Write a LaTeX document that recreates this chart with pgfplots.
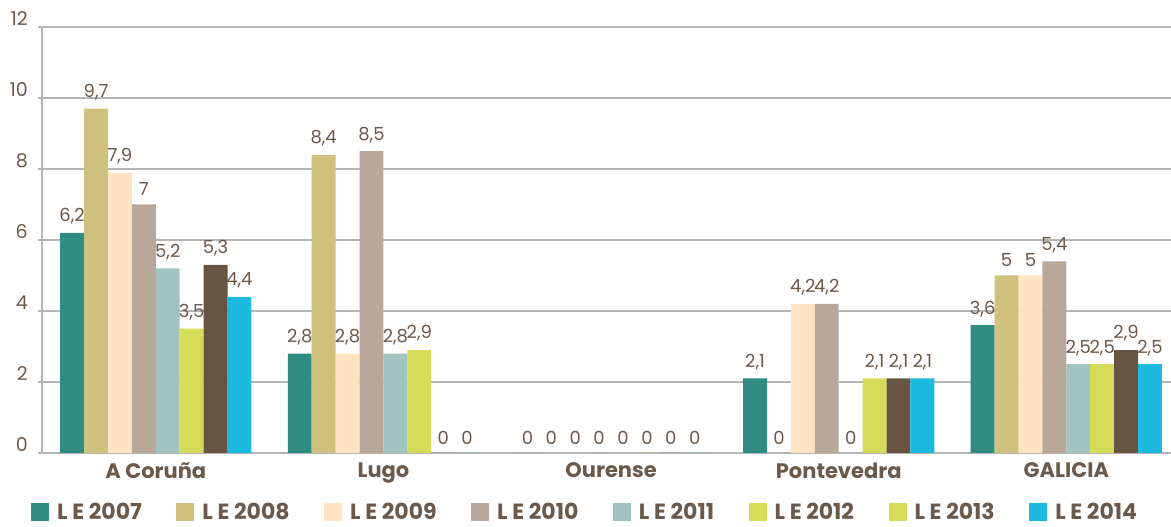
\documentclass[border=0pt]{standalone}
\usepackage{pgfplots}
\pgfplotsset{compat=1.18}
\usepackage{fontspec}
\setmainfont{Poppins}
\definecolor{c07}{HTML}{2E8C82}
\definecolor{c08}{HTML}{CFC27E}
\definecolor{c09}{HTML}{FFE3C3}
\definecolor{c10}{HTML}{B8A89A}
\definecolor{c11}{HTML}{A1C4C2}
\definecolor{c12}{HTML}{D4DC5A}
\definecolor{c13}{HTML}{675442}
\definecolor{c14}{HTML}{1CBADF}
\definecolor{txt}{HTML}{6B5A4B}
\definecolor{grd}{HTML}{B5B5B5}
\begin{document}
\begin{tikzpicture}
\begin{axis}[
  width=1129pt, height=426pt, scale only axis,
  ybar=0pt, bar width=23.9pt,
  xmin=-0.5, xmax=4.46, ymin=0, ymax=12,
  xtick={0,...,4},
  xticklabels={A Coruña,Lugo,Ourense,Pontevedra,GALICIA},
  x tick label style={font=\fontsize{21}{24}\selectfont\bfseries, text=txt, yshift=-2pt},
  major x tick style={draw=none},
  extra x ticks={-0.5,0.5,1.5,2.5,3.5},
  extra x tick labels={},
  extra x tick style={grid=none, major tick length=6pt, tick align=outside, tick style={draw=grd, line width=1.5pt}},
  ytick={0,2,...,12},
  y tick label style={font=\fontsize{19}{22}\selectfont, text=txt, anchor=south east, inner sep=1pt, xshift=-9pt},
  ytick style={draw=grd, line width=1.5pt},
  major tick length=4pt, tick align=outside,
  ymajorgrids, grid style={draw=grd, line width=1.5pt},
  axis x line*=bottom, axis y line*=left,
  axis line style={-, draw=grd, line width=1.5pt},
  nodes near coords,
  nodes near coords style={font=\fontsize{18}{21}\selectfont, text=txt, yshift=5pt},
  /pgf/number format/.cd, use comma, assume math mode=true, /pgfplots/.cd,
  legend columns=8,
  legend style={at={(0,-0.108)}, anchor=north west, xshift=-14pt, draw=none, fill=none,
    font=\fontsize{22}{25}\selectfont\bfseries, text=txt,
    /tikz/every odd column/.append style={column sep=6pt},
    /tikz/every even column/.append style={column sep=32.5pt}},
  legend image code/.code={\fill[#1] (0pt,-9pt) rectangle (18pt,9pt);},
]
\addplot[fill=c07, draw=none] coordinates {(0,6.2) (1,2.8) (2,0) (3,2.1) (4,3.6)};
\addlegendentry{L E 2007}
\addplot[fill=c08, draw=none] coordinates {(0,9.7) (1,8.4) (2,0) (3,0) (4,5)};
\addlegendentry{L E 2008}
\addplot[fill=c09, draw=none] coordinates {(0,7.9) (1,2.8) (2,0) (3,4.2) (4,5)};
\addlegendentry{L E 2009}
\addplot[fill=c10, draw=none] coordinates {(0,7) (1,8.5) (2,0) (3,4.2) (4,5.4)};
\addlegendentry{L E 2010}
\addplot[fill=c11, draw=none] coordinates {(0,5.2) (1,2.8) (2,0) (3,0) (4,2.5)};
\addlegendentry{L E 2011}
\addplot[fill=c12, draw=none] coordinates {(0,3.5) (1,2.9) (2,0) (3,2.1) (4,2.5)};
\addlegendentry{L E 2012}
\addplot[fill=c13, draw=none, legend image post style={fill=c12}] coordinates {(0,5.3) (1,0) (2,0) (3,2.1) (4,2.9)};
\addlegendentry{L E 2013}
\addplot[fill=c14, draw=none] coordinates {(0,4.4) (1,0) (2,0) (3,2.1) (4,2.5)};
\addlegendentry{L E 2014}
\end{axis}
\pgfresetboundingbox
\path ([xshift=-42pt,yshift=27pt]current axis.north west) rectangle ([xshift=1129pt,yshift=-500pt]current axis.north west);
\end{tikzpicture}
\end{document}
